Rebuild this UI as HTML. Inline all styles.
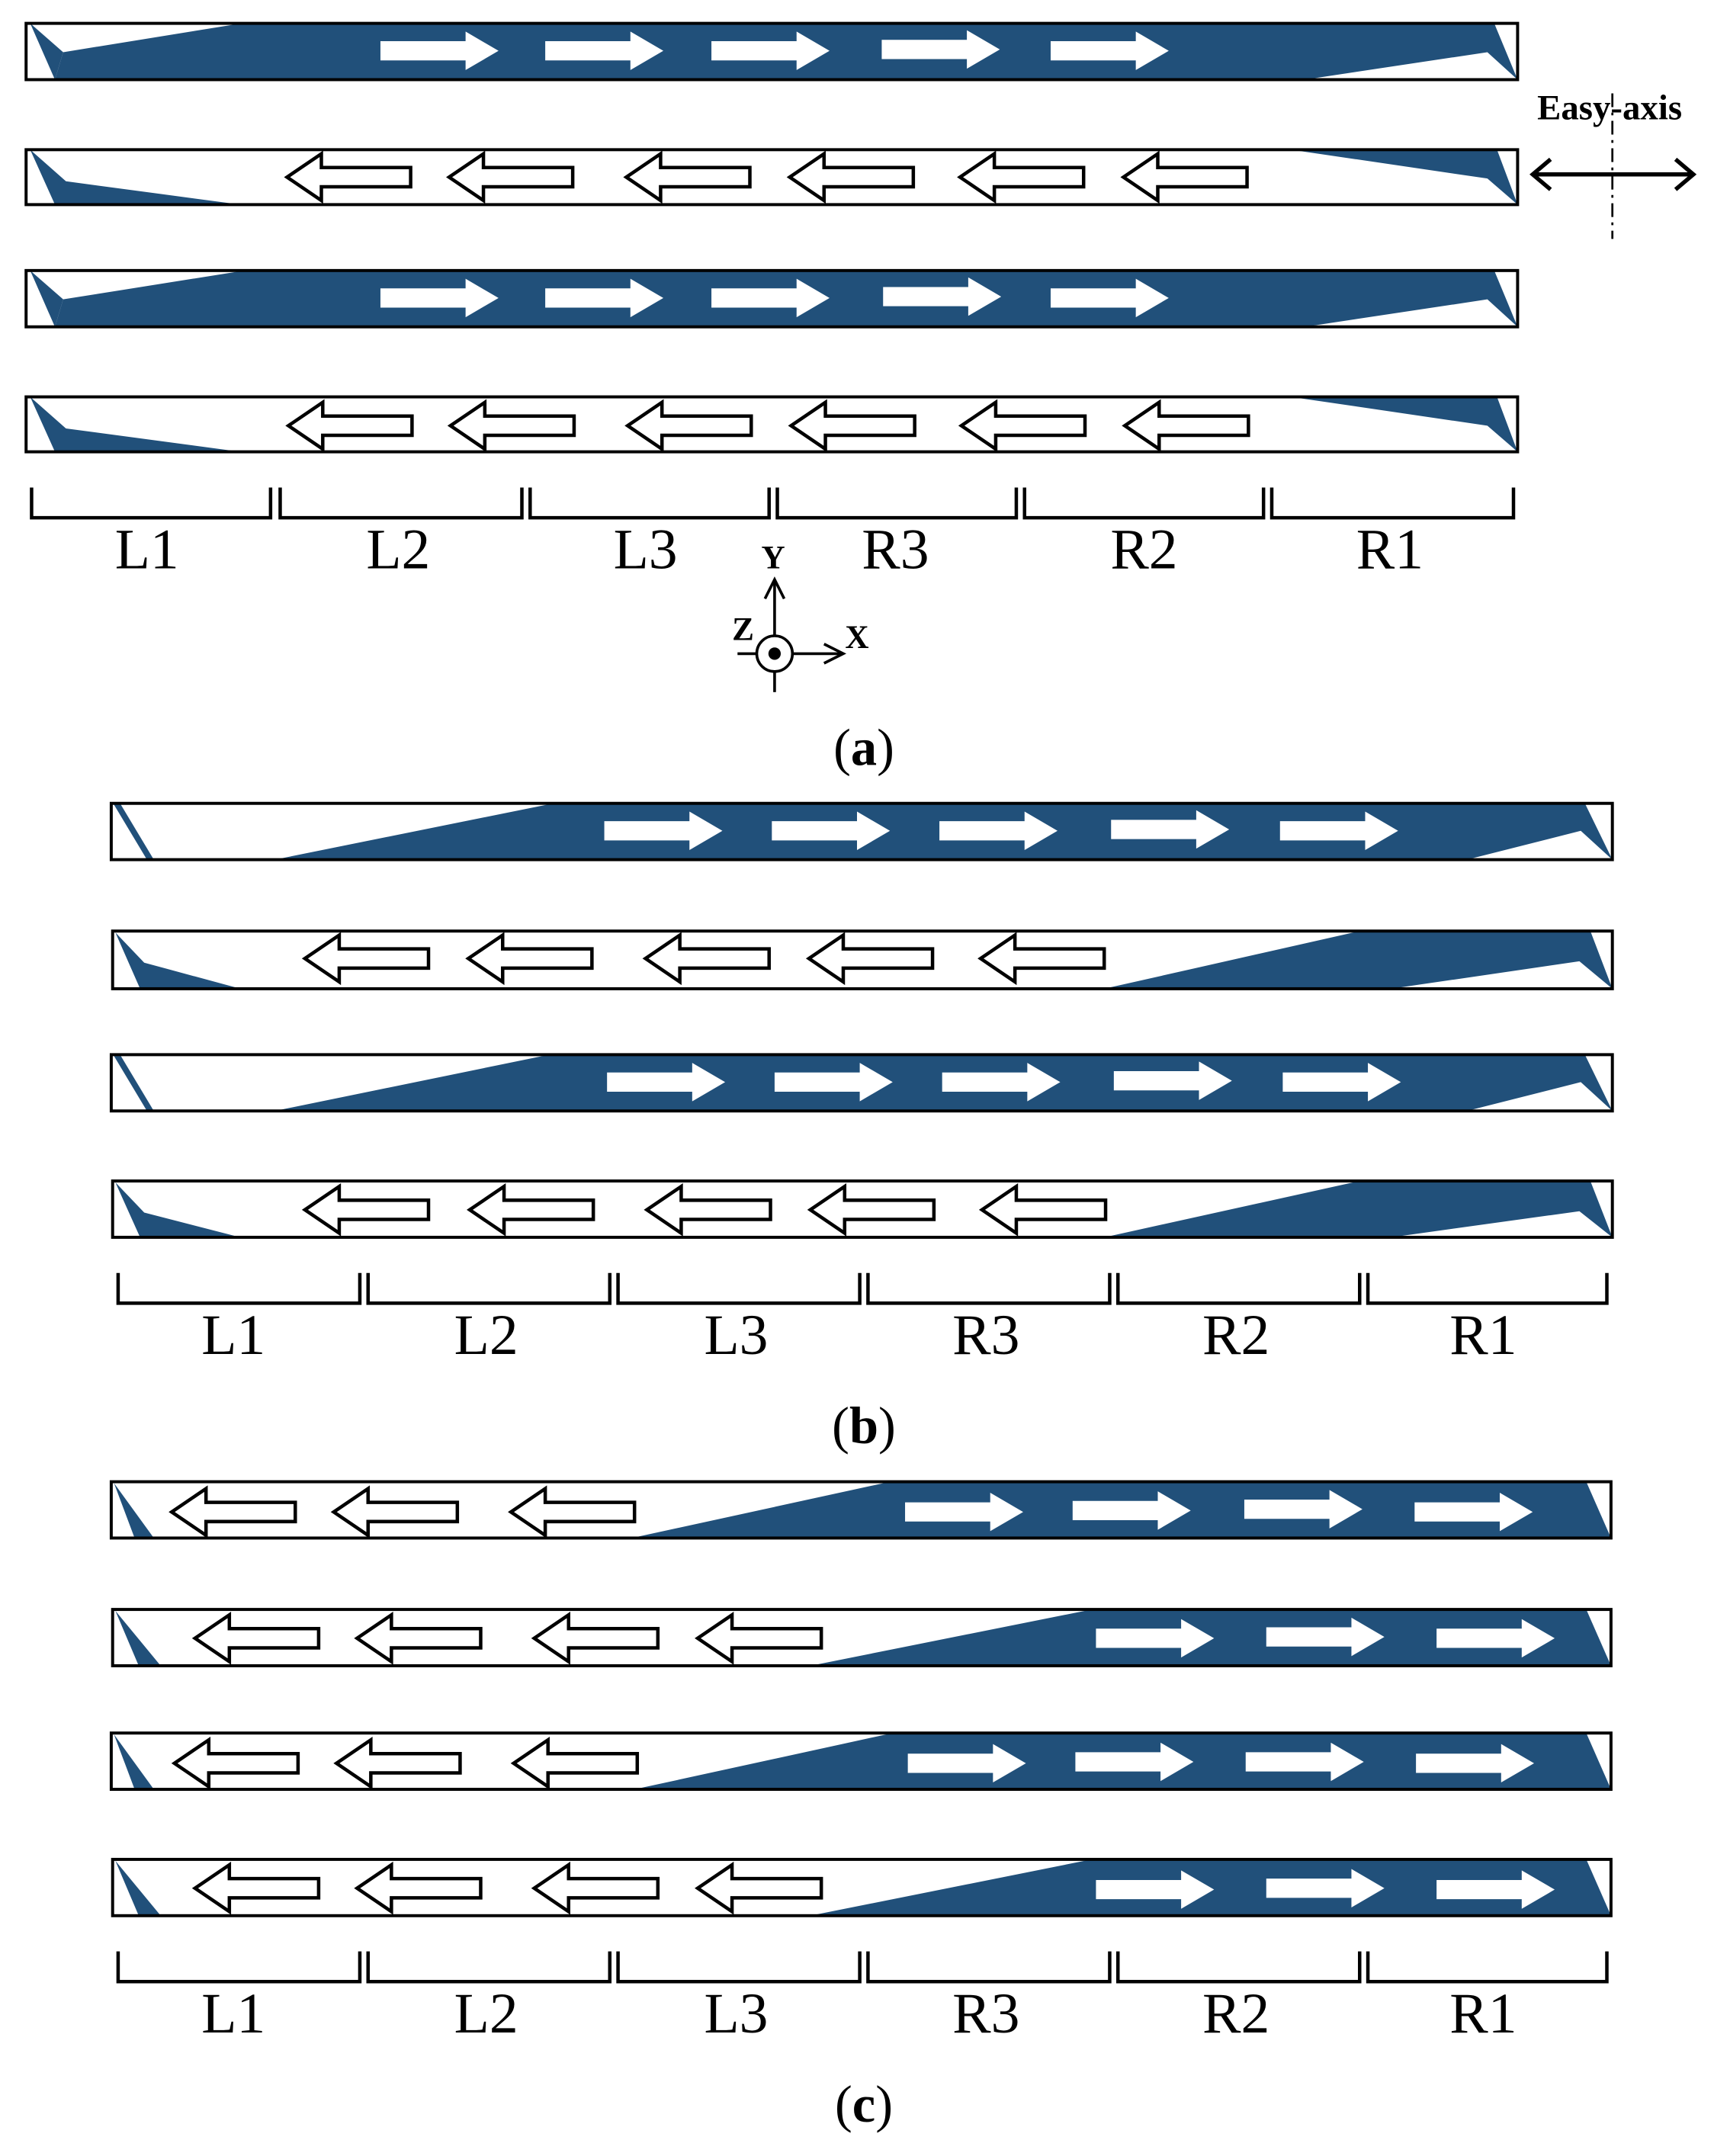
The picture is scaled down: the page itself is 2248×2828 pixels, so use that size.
<!DOCTYPE html>
<html><head><meta charset="utf-8"><style>
html,body{margin:0;padding:0;background:#fff}
svg{display:block}
text{font-family:"Liberation Serif",serif}
</style></head><body>
<svg width="2248" height="2828" viewBox="0 0 1248 1570" xmlns="http://www.w3.org/2000/svg">
<defs>
<path id="ra" d="M0,-7 H62 V-14 L86,0 L62,14 V7 H0 Z" fill="#fff"/>
<path id="la" d="M0,0 L25,-17 V-7 H90 V7 H25 V17 Z" fill="#fff" stroke="#000" stroke-width="2.5" stroke-linejoin="miter"/>
</defs>
<g fill="#21507a">
<rect x="19" y="17" width="1086" height="41"/>
<polygon fill="#fff" points="19,17 176,17 46,38 40,58 19,58"/>
<polygon fill="#21507a" points="22,17 46,38 40,58"/>
<polygon fill="#fff" points="950,58 1083,38 1105,58"/>
<polygon fill="#fff" points="1088,17 1105,17 1105,58"/>
<polygon points="22,109 48,132 175,149 40,149"/>
<polygon points="940,109 1090,109 1105,149 1083,130"/>
<rect x="19" y="197" width="1086" height="41"/>
<polygon fill="#fff" points="19,197 178,197 46,218 40,238 19,238"/>
<polygon points="22,197 46,218 40,238"/>
<polygon fill="#fff" points="950,238 1083,218 1105,238"/>
<polygon fill="#fff" points="1088,197 1105,197 1105,238"/>
<polygon points="22,289 48,312 175,329 40,329"/>
<polygon points="940,289 1090,289 1105,329 1083,310"/>
<rect x="81" y="585" width="1093" height="41"/>
<polygon fill="#fff" points="81,585 403,585 200,626 81,626"/>
<polygon points="83,586 88,586 112,626 107,626"/>
<polygon fill="#fff" points="1068,626 1151,605 1174,626"/>
<polygon fill="#fff" points="1154,585 1174,585 1174,626"/>
<polygon points="84,679 105,701 175,720 102,720"/>
<polygon points="804,720 990,678 1158,678 1174,720 1150,700 1013,720"/>
<rect x="81" y="768" width="1093" height="41"/>
<polygon fill="#fff" points="81,768 400,768 200,809 81,809"/>
<polygon points="83,769 88,769 112,809 107,809"/>
<polygon fill="#fff" points="1068,809 1151,788 1174,809"/>
<polygon fill="#fff" points="1154,768 1174,768 1174,809"/>
<polygon points="84,861 105,883 175,901 102,901"/>
<polygon points="804,901 990,860 1158,860 1174,901 1150,882 1013,901"/>
<polygon points="83,1080 112,1120 98,1120"/>
<polygon points="460,1120 648,1079 1155,1079 1173,1120"/>
<polygon points="84,1173 117,1213 101,1213"/>
<polygon points="590,1213 795,1172 1155,1172 1173,1213"/>
<polygon points="83,1263 112,1303 98,1303"/>
<polygon points="462,1303 650,1262 1155,1262 1173,1303"/>
<polygon points="84,1355 117,1395 101,1395"/>
<polygon points="590,1395 795,1354 1155,1354 1173,1395"/>
</g>
<g fill="none" stroke="#000" stroke-width="2.2">
<rect x="19" y="17" width="1086" height="41"/>
<rect x="19" y="109" width="1086" height="40"/>
<rect x="19" y="197" width="1086" height="41"/>
<rect x="19" y="289" width="1086" height="40"/>
<rect x="81" y="585" width="1093" height="41"/>
<rect x="82" y="678" width="1092" height="42"/>
<rect x="81" y="768" width="1093" height="41"/>
<rect x="82" y="860" width="1092" height="41"/>
<rect x="81" y="1079" width="1092" height="41"/>
<rect x="82" y="1172" width="1091" height="41"/>
<rect x="81" y="1262" width="1092" height="41"/>
<rect x="82" y="1354" width="1091" height="41"/>
</g>
<g>
<use href="#ra" x="277" y="37"/><use href="#ra" x="397" y="37"/><use href="#ra" x="518" y="37"/><use href="#ra" x="642" y="36"/><use href="#ra" x="765" y="37"/>
<use href="#ra" x="277" y="217"/><use href="#ra" x="397" y="217"/><use href="#ra" x="518" y="217"/><use href="#ra" x="643" y="216"/><use href="#ra" x="765" y="217"/>
<use href="#ra" x="440" y="605"/><use href="#ra" x="562" y="605"/><use href="#ra" x="684" y="605"/><use href="#ra" x="809" y="604"/><use href="#ra" x="932" y="605"/>
<use href="#ra" x="442" y="788"/><use href="#ra" x="564" y="788"/><use href="#ra" x="686" y="788"/><use href="#ra" x="811" y="787"/><use href="#ra" x="934" y="788"/>
<use href="#ra" x="659" y="1101"/><use href="#ra" x="781" y="1100"/><use href="#ra" x="906" y="1099"/><use href="#ra" x="1030" y="1101"/>
<use href="#ra" x="798" y="1193"/><use href="#ra" x="922" y="1192"/><use href="#ra" x="1046" y="1193"/>
<use href="#ra" x="661" y="1284"/><use href="#ra" x="783" y="1283"/><use href="#ra" x="907" y="1283"/><use href="#ra" x="1031" y="1284"/>
<use href="#ra" x="798" y="1376"/><use href="#ra" x="922" y="1375"/><use href="#ra" x="1046" y="1376"/>
</g>
<g>
<use href="#la" x="209" y="129"/><use href="#la" x="327" y="129"/><use href="#la" x="456" y="129"/><use href="#la" x="575" y="129"/><use href="#la" x="699" y="129"/><use href="#la" x="818" y="129"/>
<use href="#la" x="210" y="310"/><use href="#la" x="328" y="310"/><use href="#la" x="457" y="310"/><use href="#la" x="576" y="310"/><use href="#la" x="700" y="310"/><use href="#la" x="819" y="310"/>
<use href="#la" x="222" y="698"/><use href="#la" x="341" y="698"/><use href="#la" x="470" y="698"/><use href="#la" x="589" y="698"/><use href="#la" x="714" y="698"/>
<use href="#la" x="222" y="881"/><use href="#la" x="342" y="881"/><use href="#la" x="471" y="881"/><use href="#la" x="590" y="881"/><use href="#la" x="715" y="881"/>
<use href="#la" x="125" y="1101"/><use href="#la" x="243" y="1101"/><use href="#la" x="372" y="1101"/>
<use href="#la" x="142" y="1193"/><use href="#la" x="260" y="1193"/><use href="#la" x="389" y="1193"/><use href="#la" x="508" y="1193"/>
<use href="#la" x="127" y="1284"/><use href="#la" x="245" y="1284"/><use href="#la" x="374" y="1284"/>
<use href="#la" x="142" y="1375"/><use href="#la" x="260" y="1375"/><use href="#la" x="389" y="1375"/><use href="#la" x="508" y="1375"/>
</g>
<g fill="none" stroke="#000" stroke-width="2.5">
<path d="M23,355V377H197V355 M204,355V377H380V355 M386,355V377H560V355 M566,355V377H740V355 M746,355V377H920V355 M926,355V377H1102V355"/>
<path d="M86,927V949H262V927 M268,927V949H444V927 M450,927V949H626V927 M632,927V949H808V927 M814,927V949H990V927 M996,927V949H1170V927"/>
<path d="M86,1421V1443H262V1421 M268,1421V1443H444V1421 M450,1421V1443H626V1421 M632,1421V1443H808V1421 M814,1421V1443H990V1421 M996,1421V1443H1170V1421"/>
</g>
<g font-size="42" text-anchor="middle" fill="#000">
<text x="107" y="414">L1</text><text x="290" y="414">L2</text><text x="470" y="414">L3</text><text x="652" y="414">R3</text><text x="833" y="414">R2</text><text x="1012" y="414">R1</text>
<text x="170" y="986">L1</text><text x="354" y="986">L2</text><text x="536" y="986">L3</text><text x="718" y="986">R3</text><text x="900" y="986">R2</text><text x="1080" y="986">R1</text>
<text x="170" y="1480">L1</text><text x="354" y="1480">L2</text><text x="536" y="1480">L3</text><text x="718" y="1480">R3</text><text x="900" y="1480">R2</text><text x="1080" y="1480">R1</text>
</g>
<g font-size="38" text-anchor="middle" fill="#000">
<text x="629" y="557">(<tspan font-weight="bold">a</tspan>)</text>
<text x="629" y="1051">(<tspan font-weight="bold">b</tspan>)</text>
<text x="629" y="1545">(<tspan font-weight="bold">c</tspan>)</text>
</g>
<g stroke="#000" stroke-width="2" fill="none">
<line x1="564" y1="463" x2="564" y2="422"/>
<polyline points="557,436 564,422 571,436"/>
<line x1="577" y1="476" x2="614" y2="476"/>
<polyline points="600,469 614,476 600,483"/>
<line x1="537" y1="476" x2="551" y2="476"/>
<line x1="564" y1="489" x2="564" y2="504"/>
<circle cx="564" cy="476" r="13"/>
</g>
<circle cx="564" cy="476" r="4.5" fill="#000"/>
<g font-size="24" font-weight="bold" text-anchor="middle" fill="#000">
<text x="563" y="414">Y</text><text x="541" y="466">Z</text><text x="624" y="472">X</text>
</g>
<line x1="1174" y1="68" x2="1174" y2="174" stroke="#000" stroke-width="1.5" stroke-dasharray="10,4,2,4"/>
<text x="1172" y="87" font-size="26" font-weight="bold" text-anchor="middle" fill="#000">Easy-axis</text>
<g stroke="#000" stroke-width="3" fill="none">
<line x1="1116" y1="127" x2="1233" y2="127"/>
<polyline points="1129,116 1116,127 1129,138"/>
<polyline points="1220,116 1233,127 1220,138"/>
</g>
</svg>
</body></html>
